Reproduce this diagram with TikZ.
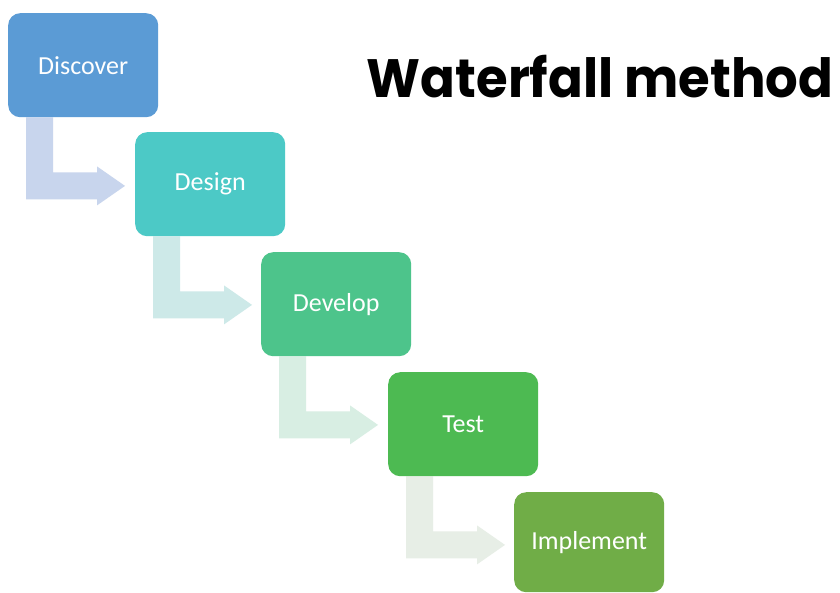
\documentclass[tikz,border=0pt]{standalone}
\usepackage{fontspec}
\setmainfont{Carlito}
\newfontfamily\titlefont{Poppins}
\usetikzlibrary{calc,backgrounds}
\definecolor{cDiscover}{HTML}{5B9BD5}
\definecolor{cDesign}{HTML}{4CC9C6}
\definecolor{cDevelop}{HTML}{4DC48B}
\definecolor{cTest}{HTML}{4DBA52}
\definecolor{cImplement}{HTML}{70AD47}
\definecolor{aOne}{HTML}{C8D5ED}
\definecolor{aTwo}{HTML}{CDE9E8}
\definecolor{aThree}{HTML}{D8EEE3}
\definecolor{aFour}{HTML}{E7EEE6}
\tikzset{
  stepbox/.style={rectangle, rounded corners=12pt, minimum width=150pt, minimum height=104pt,
    inner sep=0pt, text=white, font=\fontsize{26}{30}\selectfont, anchor=north west}
}
\newcommand{\bentarr}[2]{%
  \fill[#2] ($(#1.south west)+(18,0)$) -- ($(#1.south west)+(45,0)$)
    -- ($(#1.south west)+(45,55)$) -- ($(#1.south west)+(89,55)$)
    -- ($(#1.south west)+(89,49)$) -- ($(#1.south west)+(117,68.5)$)
    -- ($(#1.south west)+(89,88)$) -- ($(#1.south west)+(89,82)$)
    -- ($(#1.south west)+(18,82)$) -- cycle;}
\begin{document}
\begin{tikzpicture}[x=1pt,y=-1pt]
\useasboundingbox (0,0) rectangle (840,592);
\node[stepbox, fill=cDiscover] (discover) at (8,13) {Discover};
\node[stepbox, fill=cDesign] (design) at (135,132) {Design};
\node[stepbox, fill=cDevelop] (develop) at (261,252) {Develop};
\node[stepbox, fill=cTest] (test) at (388,372) {Test};
\node[stepbox, fill=cImplement, minimum height=100pt] (implement) at (514,492) {Implement};
\node[anchor=base, inner sep=0pt] (title) at (600,97)
  {\scalebox{0.95}[1]{\titlefont\bfseries\fontsize{54}{64}\selectfont Waterfall method}};
\begin{scope}[on background layer]
  \fill[white] (0,0) rectangle (840,592);
  \bentarr{discover}{aOne}
  \bentarr{design}{aTwo}
  \bentarr{develop}{aThree}
  \bentarr{test}{aFour}
\end{scope}
\end{tikzpicture}
\end{document}
